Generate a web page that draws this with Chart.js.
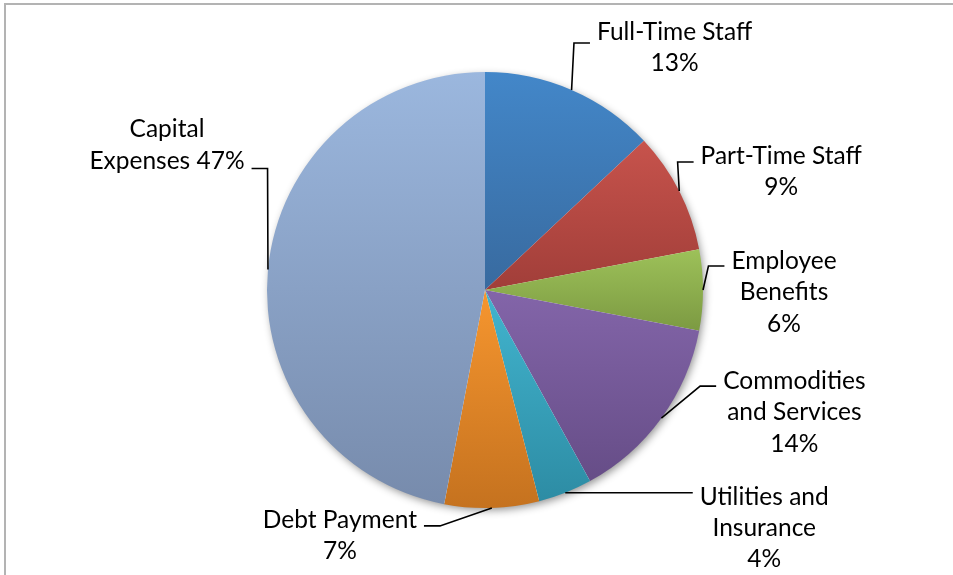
<!DOCTYPE html>
<html>
<head>
<meta charset="utf-8">
<title>Budget Breakdown</title>
<script src="https://cdn.jsdelivr.net/npm/chart.js@4.4.1/dist/chart.umd.min.js"></script>
<style>
  html, body { margin: 0; padding: 0; background: #fff; overflow: hidden; }
  #wrap { position: relative; width: 953px; height: 575px; }
  #frame { position: absolute; left: 4px; top: 3px; width: 1000px; height: 700px;
           border-left: 2px solid #b3b3b3; border-top: 2px solid #b3b3b3; }
  canvas { position: absolute; left: 0; top: 0; }
</style>
</head>
<body>
<div id="wrap">
  <div id="frame"></div>
  <canvas id="budgetPie" width="953" height="575"></canvas>
</div>
<script>
// Budget shares (%), clockwise from 12 o'clock
const categories = ["Full-Time Staff", "Part-Time Staff", "Employee Benefits",
  "Commodities and Services", "Utilities and Insurance", "Debt Payment", "Capital Expenses"];
const shares = [13, 9, 6, 14, 4, 7, 47];

// how each category name wraps in its label
const labelWrap = [
  ["Full-Time Staff"],
  ["Part-Time Staff"],
  ["Employee", "Benefits"],
  ["Commodities", "and Services"],
  ["Utilities and", "Insurance"],
  ["Debt Payment"],
  ["Capital", "Expenses"]
];

// slice fills: [top, bottom] of each slice's gradient
const sliceColors = [
  ["#4387c9", "#386a9f"],
  ["#c7534c", "#a13e39"],
  ["#9dc159", "#7c9a42"],
  ["#8365a9", "#664d87"],
  ["#42b5cf", "#2d8ca4"],
  ["#f6962f", "#c5721f"],
  ["#9bb7de", "#778bac"]
];

// label placement relative to the point where the leader meets the slice:
// dx = text centre, dy = first baseline, ly = leader height vs first baseline
const labelLayout = [
  { dx: 103, dy: -50, ly: 3 },
  { dx: 102, dy: -27, ly: -2 },
  { dx: 81, dy: -21, ly: -3 },
  { dx: 133, dy: -29, ly: -3 },
  { dx: 199, dy: 12, ly: -12 },
  { dx: -152, dy: 20, ly: -2 },
  { dx: -101, dy: -132, ly: 31, inline: true }
];

const FONT = "24.5px Lato";
const LINE_H = 31.3;

function total() {
  return shares.reduce((a, b) => a + b, 0);
}

// vertical gradient spanning the slice's own height
function sliceGradient(context) {
  const chart = context.chart;
  const area = chart.chartArea;
  const i = context.dataIndex;
  const pair = sliceColors[i];
  if (!area) return pair[0];
  const cx = (area.left + area.right) / 2;
  const cy = (area.top + area.bottom) / 2;
  const r = Math.min(area.width, area.height) / 2;
  const before = shares.slice(0, i).reduce((a, b) => a + b, 0);
  const a0 = -Math.PI / 2 + before / total() * 2 * Math.PI;
  const a1 = a0 + shares[i] / total() * 2 * Math.PI;
  const ys = [cy, cy + r * Math.sin(a0), cy + r * Math.sin(a1)];
  [-Math.PI / 2, Math.PI / 2, 3 * Math.PI / 2].forEach(t => {
    if (t > a0 && t < a1) ys.push(cy + r * Math.sin(t));
  });
  const g = chart.ctx.createLinearGradient(0, Math.min(...ys), 0, Math.max(...ys));
  g.addColorStop(0, pair[0]);
  g.addColorStop(1, pair[1]);
  return g;
}

// soft drop shadow under the whole pie
const pieShadow = {
  id: "pieShadow",
  beforeDatasetsDraw(chart) {
    const arc = chart.getDatasetMeta(0).data[0];
    if (!arc) return;
    const { x, y, outerRadius } = arc.getProps(["x", "y", "outerRadius"], true);
    const ctx = chart.ctx;
    ctx.save();
    ctx.shadowColor = "rgba(0,0,0,0.45)";
    ctx.shadowBlur = 9;
    ctx.shadowOffsetX = 2;
    ctx.shadowOffsetY = 3;
    ctx.fillStyle = "#fff";
    ctx.beginPath();
    ctx.arc(x, y, outerRadius - 1, 0, Math.PI * 2);
    ctx.fill();
    ctx.restore();
  }
};

// category labels with elbow leader lines
const outsideLabels = {
  id: "outsideLabels",
  afterDatasetsDraw(chart) {
    const ctx = chart.ctx;
    const arcs = chart.getDatasetMeta(0).data;
    ctx.save();
    ctx.font = FONT;
    ctx.fillStyle = "#000";
    ctx.strokeStyle = "#000";
    ctx.lineWidth = 1.6;
    ctx.textAlign = "center";
    ctx.textBaseline = "alphabetic";
    arcs.forEach((arc, i) => {
      const p = arc.getProps(["x", "y", "startAngle", "endAngle", "outerRadius"], true);
      const mid = (p.startAngle + p.endAngle) / 2;
      const ax = p.x + p.outerRadius * Math.cos(mid);
      const ay = p.y + p.outerRadius * Math.sin(mid);
      const lay = labelLayout[i];
      const lines = labelWrap[i].slice();
      const pct = shares[i] + "%";
      if (lay.inline) lines[lines.length - 1] += " " + pct;
      else lines.push(pct);

      const tx = ax + lay.dx;
      const ty = ay + lay.dy;
      const w = Math.max(...lines.map(s => ctx.measureText(s).width));
      const side = lay.dx > 0 ? 1 : -1;
      const ly = ty + lay.ly;
      const endX = side > 0 ? tx - w / 2 - 7 : tx + w / 2 + 7;
      const elbowX = endX - side * 16;

      ctx.beginPath();
      ctx.moveTo(ax, ay);
      ctx.lineTo(elbowX, ly);
      ctx.lineTo(endX, ly);
      ctx.stroke();

      lines.forEach((s, k) => ctx.fillText(s, tx, ty + k * LINE_H));
    });
    ctx.restore();
  }
};

new Chart(document.getElementById("budgetPie"), {
  type: "pie",
  data: {
    labels: categories,
    datasets: [{
      data: shares,
      backgroundColor: sliceGradient,
      borderWidth: 0
    }]
  },
  options: {
    responsive: false,
    animation: false,
    layout: { padding: { left: 267, right: 250, top: 72, bottom: 67 } },
    plugins: {
      legend: { display: false },
      tooltip: { enabled: false }
    }
  },
  plugins: [pieShadow, outsideLabels]
});
</script>
</body>
</html>
